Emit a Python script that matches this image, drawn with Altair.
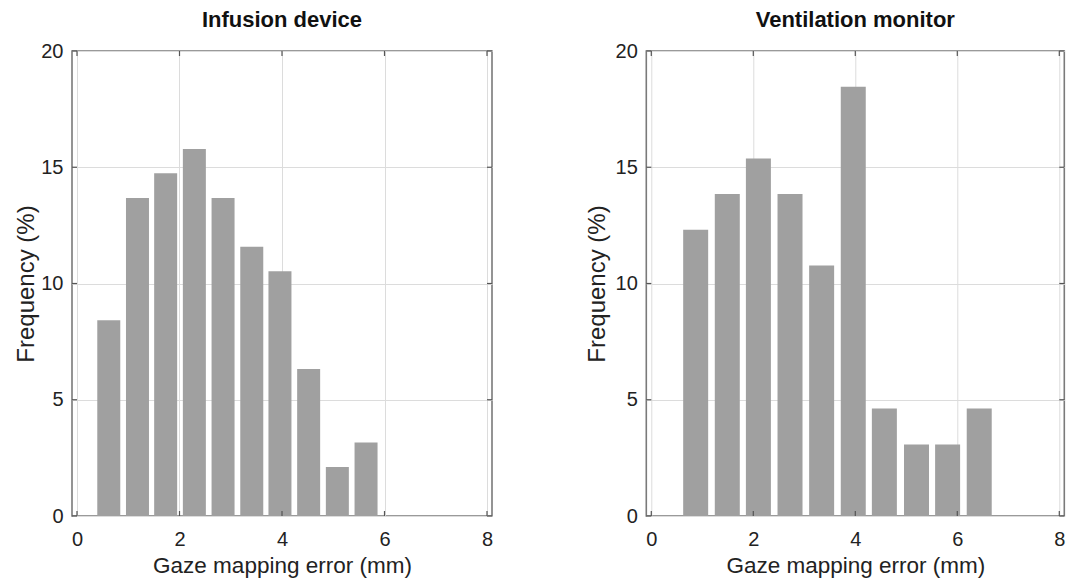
import altair as alt
import pandas as pd

# ---- data ----
left_title = "Infusion device"
right_title = "Ventilation monitor"
x_label = "Gaze mapping error (mm)"
y_label = "Frequency (%)"

left_centers = [0.62, 1.18, 1.73, 2.29, 2.85, 3.41, 3.96, 4.52, 5.08, 5.64]
left_values = [8.42, 13.68, 14.74, 15.79, 13.68, 11.58, 10.53, 6.32, 2.11, 3.16]

right_centers = [0.87, 1.49, 2.10, 2.72, 3.34, 3.96, 4.57, 5.20, 5.81, 6.43]
right_values = [12.31, 13.85, 15.38, 13.85, 10.77, 18.46, 4.62, 3.08, 3.08, 4.62]

x_ticks = [0, 2, 4, 6, 8]
y_ticks = [0, 5, 10, 15, 20]

FONT = "Liberation Sans"
BAR = "#a0a0a0"
TICKC = "#555555"


def panel(title, centers, values, w, h, bar_px, ytitle_pad):
    df = pd.DataFrame({"x": centers, "y": values})
    xs = alt.Scale(domain=[0, 8], nice=False, zero=False)
    ys = alt.Scale(domain=[0, 20], nice=False)
    xaxis = alt.Axis(values=x_ticks, grid=True, ticks=False, tickSize=0, domain=False,
                     labelPadding=13, titlePadding=5, labelFontSize=20, titleFontSize=22.5,
                     titleFontWeight="normal", labelColor="#222222", titleColor="#222222",
                     gridColor="#dcdcdc", gridWidth=1, labelFont=FONT, titleFont=FONT)
    yaxis = alt.Axis(values=y_ticks, grid=True, ticks=False, tickSize=0, domain=False,
                     labelPadding=9, titlePadding=ytitle_pad, labelFontSize=20, titleFontSize=24,
                     titleFontWeight="normal", labelColor="#222222", titleColor="#222222",
                     gridColor="#dcdcdc", gridWidth=1, labelFont=FONT, titleFont=FONT)
    bars = alt.Chart(df).mark_bar(size=bar_px, color=BAR).encode(
        x=alt.X("x:Q", scale=xs, axis=xaxis, title=x_label),
        y=alt.Y("y:Q", scale=ys, axis=yaxis, title=y_label),
    )
    xt = pd.DataFrame({"t": x_ticks})
    yt = pd.DataFrame({"t": y_ticks})
    tk = 5
    top_t = alt.Chart(xt).mark_rule(color=TICKC, strokeWidth=1.2).encode(
        x=alt.X("t:Q", scale=xs), y=alt.value(0), y2=alt.value(tk))
    bot_t = alt.Chart(xt).mark_rule(color=TICKC, strokeWidth=1.2).encode(
        x=alt.X("t:Q", scale=xs), y=alt.value(h - tk), y2=alt.value(h))
    left_t = alt.Chart(yt).mark_rule(color=TICKC, strokeWidth=1.2).encode(
        y=alt.Y("t:Q", scale=ys), x=alt.value(0), x2=alt.value(tk))
    right_t = alt.Chart(yt).mark_rule(color=TICKC, strokeWidth=1.2).encode(
        y=alt.Y("t:Q", scale=ys), x=alt.value(w - tk), x2=alt.value(w))
    return alt.layer(bars, top_t, bot_t, left_t, right_t).properties(
        width=w, height=h,
        title=alt.TitleParams(title, fontSize=22, fontWeight="bold", font=FONT,
                              color="#111111", baseline="alphabetic", offset=-8, anchor="middle"),
    )


left = panel(left_title, left_centers, left_values, 420, 465, 23, 2.6)
right = panel(right_title, right_centers, right_values, 418, 465, 25, 5.2)

chart = alt.hconcat(left, right, spacing=154.3, bounds="flush").properties(
    padding={"left": 5, "top": 0, "right": 0, "bottom": 0}
).configure_view(stroke="#7a7a7a", strokeWidth=1.6).resolve_scale(x="independent", y="independent")

chart.save("out.html", embed_options={"renderer": "svg", "actions": False})
